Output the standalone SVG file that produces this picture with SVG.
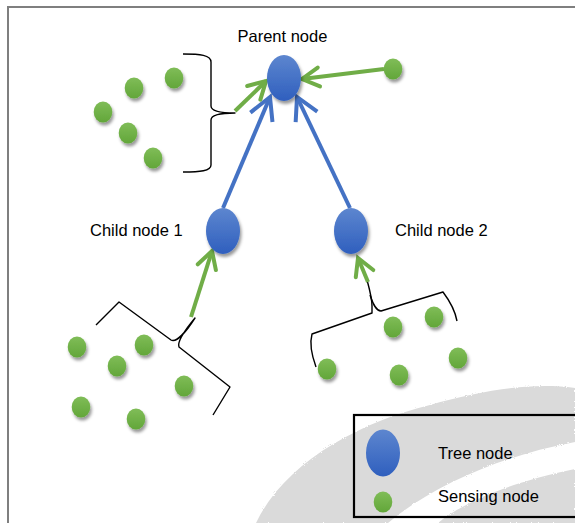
<svg xmlns="http://www.w3.org/2000/svg" width="575" height="523" viewBox="0 0 575 523">
  <defs>
    <linearGradient id="gBlue" x1="0" y1="0" x2="0" y2="1">
      <stop offset="0" stop-color="#5d86cf"/>
      <stop offset="1" stop-color="#2f5fbe"/>
    </linearGradient>
    <linearGradient id="gGreen" x1="0" y1="0" x2="0" y2="1">
      <stop offset="0" stop-color="#80bd58"/>
      <stop offset="1" stop-color="#62a639"/>
    </linearGradient>
    <filter id="shadow" x="-50%" y="-50%" width="200%" height="200%">
      <feDropShadow dx="1.5" dy="3" stdDeviation="1.8" flood-color="#000" flood-opacity="0.4"/>
    </filter>
    <filter id="rough" x="-5%" y="-5%" width="110%" height="110%">
      <feTurbulence type="fractalNoise" baseFrequency="0.9" numOctaves="1" result="n"/>
      <feDisplacementMap in="SourceGraphic" in2="n" scale="3"/>
    </filter>
    <marker id="arrG" markerUnits="userSpaceOnUse" viewBox="-22 -13 26 26" refX="0" refY="0" markerWidth="26" markerHeight="26" orient="auto">
      <path d="M-17,-9.5 L0,0 L-17,9.5" fill="none" stroke="#70ad47" stroke-width="4" stroke-linecap="round" stroke-linejoin="miter"/>
    </marker>
    <marker id="arrB" markerUnits="userSpaceOnUse" viewBox="-27 -16 31 32" refX="0" refY="0" markerWidth="31" markerHeight="32" orient="auto">
      <path d="M-22,-12 L0,0 L-22,12" fill="none" stroke="#4472c4" stroke-width="4" stroke-linecap="butt" stroke-linejoin="miter"/>
    </marker>
  </defs>
  <style>
    .lbl { font-family: "Liberation Sans", Arial, sans-serif; font-size: 16.5px; fill: #000; }
    .tree { fill: url(#gBlue); filter: url(#shadow); }
    .sense { fill: url(#gGreen); filter: url(#shadow); }
    .g { stroke: #70ad47; stroke-width: 4; fill: none; marker-end: url(#arrG); }
    .b { stroke: #4472c4; stroke-width: 4; fill: none; marker-end: url(#arrB); }
    .brace { stroke: #000; stroke-width: 1.4; fill: none; stroke-linejoin: round; }
  </style>

  <rect x="0" y="0" width="575" height="523" fill="#fff"/>

  <!-- background watermark -->
  <g id="watermark" filter="url(#rough)">
    <path d="M256,523 C285,462 360,422 430,405 C480,391 530,382 575,388 L575,523 Z" fill="#dadada"/>
    <path d="M388,523 C432,486 500,456 575,442 L575,469 C516,481 466,500 438,523 Z" fill="#ffffff"/>
  </g>

  <!-- frame -->
  <path d="M8,523 L8,7 L575,7" fill="none" stroke="#7f7f7f" stroke-width="2"/>

  <!-- braces -->
  <g id="braces">
    <path class="brace" d="M183,54 C200,54 211,55 211,62 L211,106 C211,111 222,113 235,113 C222,113 211,115 211,120 L211,165 C211,171 200,172 183,172"/>
    <path class="brace" d="M96,325 L119,302 L171,340 C176,343 186,332 195,318 C185,330 177,342 179,347 L230,387 L213,415"/>
    <path class="brace" d="M367,280 C370,291 372,298 372,306 L372,313 L312,334 C309,345 312,356 316,367"/>
    <path class="brace" d="M370,295 C373,304 376,311 381,311 L443,292 C449,300 455,310 457,321"/>
  </g>

  <!-- connectors -->
  <g id="connectors">
    <line class="b" x1="223" y1="208" x2="270" y2="97"/>
    <line class="b" x1="350" y1="208" x2="297" y2="97"/>
    <line class="g" x1="235" y1="111" x2="266" y2="81"/>
    <line class="g" x1="384" y1="69" x2="302" y2="79"/>
    <line class="g" x1="191" y1="317" x2="212" y2="251"/>
    <line class="g" x1="368" y1="282" x2="358" y2="258"/>
  </g>

  <!-- tree nodes -->
  <g id="parent-node">
    <ellipse class="tree" cx="284" cy="78" rx="17" ry="23"/>
    <text class="lbl" x="237.5" y="42">Parent node</text>
  </g>
  <g id="child-node-1">
    <ellipse class="tree" cx="223" cy="231" rx="17" ry="23"/>
    <text class="lbl" x="90" y="236">Child node 1</text>
  </g>
  <g id="child-node-2">
    <ellipse class="tree" cx="351" cy="231" rx="17" ry="23"/>
    <text class="lbl" x="395" y="236">Child node 2</text>
  </g>

  <!-- sensing nodes -->
  <g id="sensing-parent-group">
    <ellipse class="sense" cx="174" cy="78" rx="9.3" ry="10.6"/>
    <ellipse class="sense" cx="134" cy="88" rx="9.3" ry="10.6"/>
    <ellipse class="sense" cx="103" cy="112" rx="9.3" ry="10.6"/>
    <ellipse class="sense" cx="128" cy="133" rx="9.3" ry="10.6"/>
    <ellipse class="sense" cx="153" cy="158" rx="9.3" ry="10.6"/>
  </g>
  <g id="sensing-parent-single">
    <ellipse class="sense" cx="393" cy="69" rx="9.3" ry="10.6"/>
  </g>
  <g id="sensing-child1-group">
    <ellipse class="sense" cx="77" cy="347" rx="9.3" ry="10.6"/>
    <ellipse class="sense" cx="144" cy="345" rx="9.3" ry="10.6"/>
    <ellipse class="sense" cx="117" cy="366" rx="9.3" ry="10.6"/>
    <ellipse class="sense" cx="184" cy="386" rx="9.3" ry="10.6"/>
    <ellipse class="sense" cx="81" cy="407" rx="9.3" ry="10.6"/>
    <ellipse class="sense" cx="136" cy="419" rx="9.3" ry="10.6"/>
  </g>
  <g id="sensing-child2-group">
    <ellipse class="sense" cx="393" cy="327" rx="9.3" ry="10.6"/>
    <ellipse class="sense" cx="434" cy="317" rx="9.3" ry="10.6"/>
    <ellipse class="sense" cx="327" cy="369" rx="9.3" ry="10.6"/>
    <ellipse class="sense" cx="399" cy="375" rx="9.3" ry="10.6"/>
    <ellipse class="sense" cx="458" cy="358" rx="9.3" ry="10.6"/>
  </g>

  <!-- legend -->
  <g id="legend">
    <rect x="354" y="415" width="230" height="102" fill="none" stroke="#000" stroke-width="2.2"/>
    <ellipse class="tree" cx="383" cy="453" rx="17" ry="23.5" style="filter:none"/>
    <text class="lbl" x="438" y="459">Tree node</text>
    <ellipse class="sense" cx="383" cy="502" rx="9.3" ry="10.6" style="filter:none"/>
    <text class="lbl" x="438" y="502">Sensing node</text>
  </g>
</svg>
